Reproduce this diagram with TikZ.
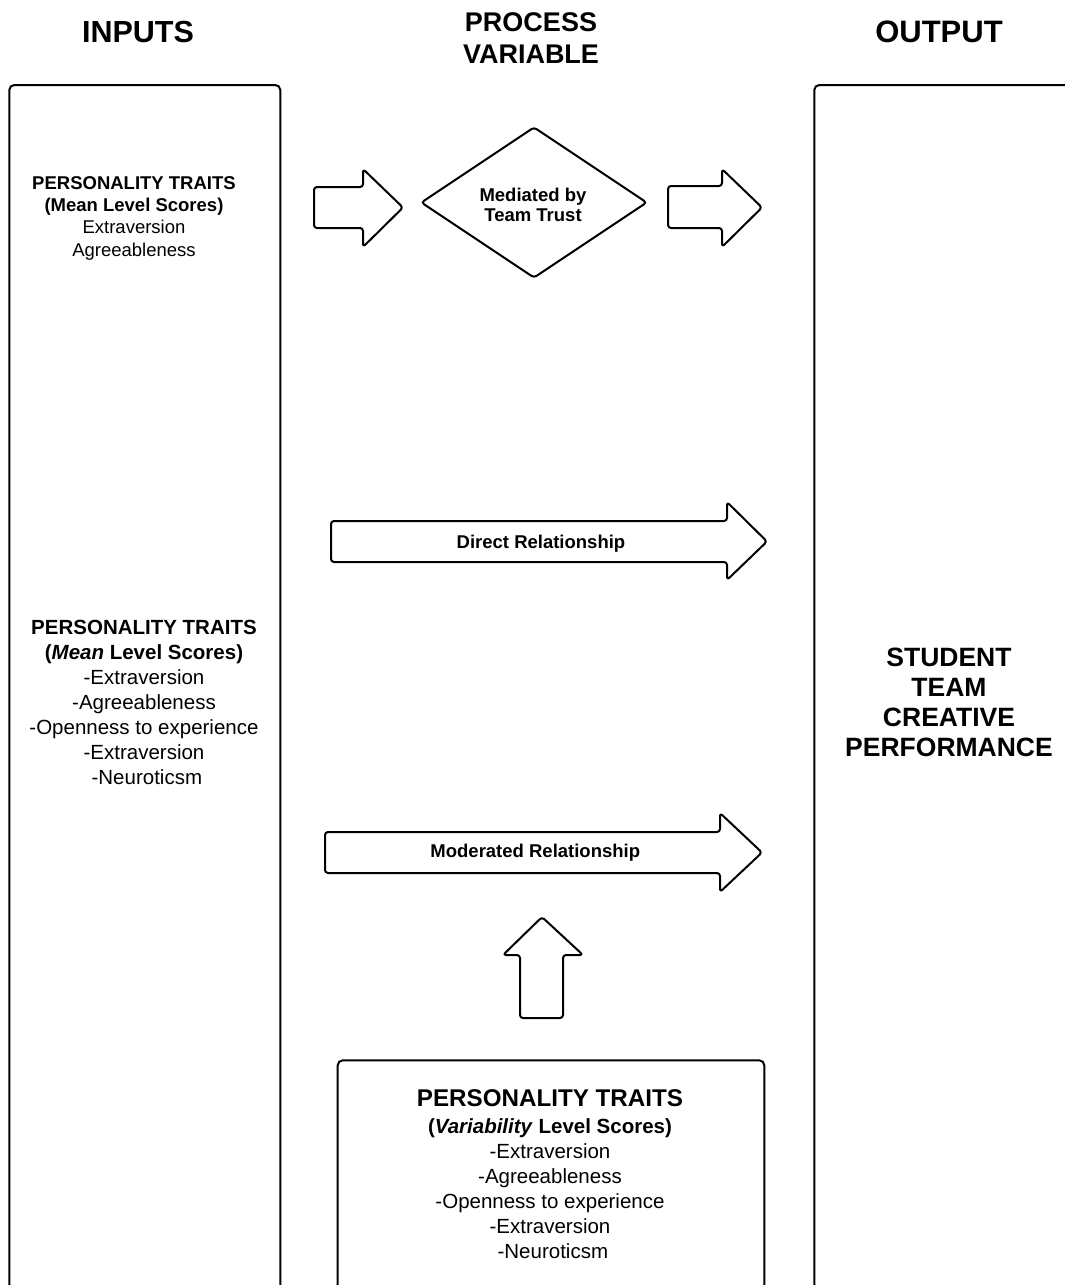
\documentclass[tikz,border=0pt]{standalone}
\usepackage{fontspec}
\setmainfont{Liberation Sans}
\usetikzlibrary{shapes.geometric}
\newcommand\fsz[2]{\fontsize{#1}{#2}\selectfont}
\begin{document}
\begin{tikzpicture}[x=1pt, y=-1pt,
  panel/.style={draw, line width=2pt, rounded corners=5pt, inner sep=0pt, anchor=north west},
  blockarrow/.style={draw, line width=2pt, rounded corners=3pt, line join=round, fill=white},
  heading/.style={anchor=base, align=center, inner sep=0pt},
  txt/.style={anchor=base, align=center, inner sep=0pt}]
\useasboundingbox (0,0) rectangle (1065,1285);
\clip (0,0) rectangle (1065,1285);
\fill[white] (0,0) rectangle (1065,1285);

% column headings (anchored at the baseline of the last line)
\node[heading, font=\bfseries\fsz{30.5}{36}] (hin)  at (138,42.7) {INPUTS};
\node[heading, font=\bfseries\fsz{27}{31.6}] (hpv)  at (531,63.3) {PROCESS\\VARIABLE};
\node[heading, font=\bfseries\fsz{31}{36}] (hout) at (939,42.7) {OUTPUT};

% panels (open at the bottom edge)
\node[panel, minimum width=271pt, minimum height=1300pt] (inputs) at (8.3,84) {};
\node[panel, minimum width=300pt, minimum height=1300pt] (output) at (813.3,84) {};
\node[panel, minimum width=426.6pt, minimum height=400pt] (varbox) at (336.7,1059.3) {};

% input texts
\node[txt, font=\fsz{18.5}{22.3}] (meanA) at (134,256) {\textbf{PERSONALITY TRAITS}\\
  \textbf{(Mean Level Scores)}\\Extraversion\\Agreeableness};
\node[txt, font=\fsz{20.5}{25}] (meanB) at (144,784) {\textbf{PERSONALITY TRAITS}\\
  \textbf{(\textit{Mean} Level Scores)}\\-Extraversion\\-Agreeableness\\
  -Openness to experience\\-Extraversion\\\ -Neuroticsm};

% output text
\node[heading, font=\bfseries\fsz{26.5}{30}] (perf) at (949,756.7) {STUDENT\\TEAM\\CREATIVE\\PERFORMANCE};

% moderator text
\node[txt, font=\fsz{20.5}{25}] (vartxt) at (550,1258.3) {\textbf{\fsz{24.2}{25}PERSONALITY TRAITS}\\[1.6pt]
  \textbf{(\textit{Variability} Level Scores)}\\-Extraversion\\-Agreeableness\\
  -Openness to experience\\-Extraversion\\\ -Neuroticsm};

% mediation path
\draw[blockarrow] (314,187) -- (363,187) -- (363,169) -- (403,207.5) -- (363,247) -- (363,228) -- (314,228) -- cycle;
\node[diamond, draw, line width=2pt, rounded corners=3pt, minimum width=226pt, minimum height=151pt,
  inner sep=0pt] (med) at (534,202.5) {};
\node[txt, font=\bfseries\fsz{18.5}{20.7}] (medtxt) at (533,221.7) {Mediated by\\Team Trust};
\draw[blockarrow] (668,186) -- (722,186) -- (722,169) -- (762,207.5) -- (722,247) -- (722,228) -- (668,228) -- cycle;

% direct path
\draw[blockarrow] (331,521) -- (727,521) -- (727,502) -- (767,541.5) -- (727,580) -- (727,562) -- (331,562) -- cycle;
\node[txt, font=\bfseries\fsz{18.5}{22}] (direct) at (541,548.3) {Direct Relationship};

% moderated path
\draw[blockarrow] (325,832) -- (720,832) -- (720,813) -- (762,852.5) -- (720,892) -- (720,873) -- (325,873) -- cycle;
\node[txt, font=\bfseries\fsz{18.5}{22}] (moder) at (535.3,857.3) {Moderated Relationship};

% moderator arrow
\draw[blockarrow] (520,1018) -- (520,955) -- (503,955) -- (542,917) -- (583,955) -- (563,955) -- (563,1018) -- cycle;
\end{tikzpicture}
\end{document}
